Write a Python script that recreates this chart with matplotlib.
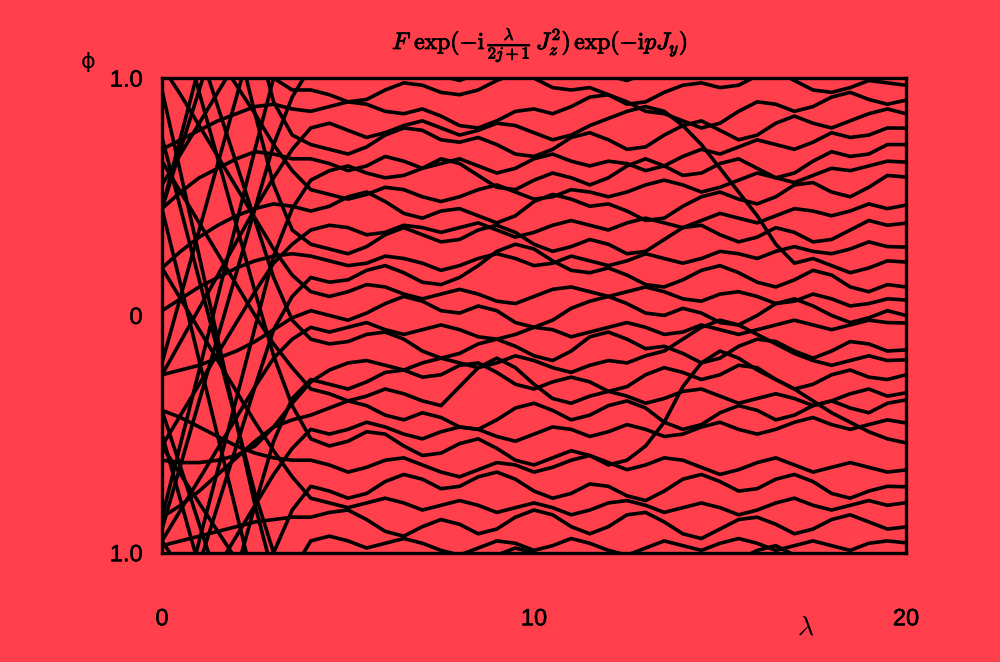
import matplotlib.pyplot as plt
import matplotlib.patheffects as pe

plt.rcParams['font.family'] = ['Liberation Sans', 'DejaVu Sans']
plt.rcParams['mathtext.fontset'] = 'cm'

# lambda sample points (x axis), 0 .. 20 in steps of 0.5
lam = [0, 0.5, 1, 1.5, 2, 2.5, 3, 3.5, 4, 4.5, 5, 5.5, 6, 6.5, 7, 7.5, 8, 8.5,
       9, 9.5, 10, 10.5, 11, 11.5, 12, 12.5, 13, 13.5, 14, 14.5, 15, 15.5, 16,
       16.5, 17, 17.5, 18, 18.5, 19, 19.5, 20]

# eigenphases phi (units of pi), unwrapped
lev00 = [2.75, 2.45, 2.15, 1.85, 1.55, 1.25, 1.00, 0.95,
         0.95, 0.93, 0.90, 0.91, 0.95, 0.98, 0.97, 0.94, 0.93, 0.95, 0.99, 1.02, 1.00, 0.96, 0.95, 0.96,
         0.93, 0.89, 0.90, 0.94, 0.97, 0.98, 0.96, 0.97, 1.01, 1.03, 0.99, 0.95, 0.94, 0.96, 0.99, 0.98, 0.97]
lev01 = [0.70, 0.74, 0.78, 0.82, 0.85, 0.88, 0.89, 0.87,
         0.86, 0.88, 0.90, 0.89, 0.86, 0.85, 0.87, 0.84, 0.80, 0.79, 0.82, 0.86, 0.87, 0.85, 0.88, 0.92,
         0.93, 0.90, 0.86, 0.85, 0.82, 0.79, 0.81, 0.86, 0.90, 0.89, 0.86, 0.88, 0.92, 0.94, 0.91, 0.89, 0.907]
lev02 = [-0.25, -0.11, 0.03, 0.17, 0.31, 0.45, 0.58, 0.70,
         0.79, 0.81, 0.78, 0.75, 0.77, 0.80, 0.82, 0.79, 0.76, 0.78, 0.81, 0.80, 0.77, 0.74, 0.76, 0.80,
         0.83, 0.86, 0.88, 0.86, 0.80, 0.72, 0.62, 0.52, 0.42, 0.30, 0.22, 0.24, 0.21, 0.18, 0.20, 0.23, 0.225]
lev03 = [2.95, 2.60, 2.25, 1.90, 1.55, 1.20, 0.90, 0.76,
         0.72, 0.70, 0.68, 0.71, 0.76, 0.79, 0.78, 0.74, 0.73, 0.75, 0.72, 0.68, 0.67, 0.70, 0.75, 0.77,
         0.74, 0.70, 0.71, 0.76, 0.80, 0.82, 0.78, 0.74, 0.76, 0.81, 0.84, 0.81, 0.79, 0.82, 0.85, 0.87, 0.85]
lev04 = [0.45, 0.52, 0.58, 0.62, 0.66, 0.69, 0.68, 0.66,
         0.66, 0.64, 0.61, 0.63, 0.67, 0.65, 0.62, 0.64, 0.66, 0.63, 0.60, 0.62, 0.66, 0.68, 0.65, 0.63,
         0.65, 0.64, 0.61, 0.63, 0.67, 0.70, 0.68, 0.71, 0.74, 0.72, 0.70, 0.73, 0.77, 0.75, 0.76, 0.79, 0.789]
lev05 = [-1.55, -1.25, -0.95, -0.65, -0.35, -0.05, 0.25, 0.45,
         0.57, 0.61, 0.63, 0.60, 0.58, 0.59, 0.62, 0.66, 0.64, 0.59, 0.54, 0.53, 0.57, 0.60, 0.58, 0.55,
         0.58, 0.63, 0.66, 0.63, 0.59, 0.60, 0.64, 0.66, 0.62, 0.58, 0.60, 0.65, 0.69, 0.67, 0.68, 0.72, 0.72]
lev06 = [1.45, 1.33, 1.21, 1.09, 0.97, 0.85, 0.72, 0.61,
         0.53, 0.51, 0.49, 0.51, 0.54, 0.53, 0.50, 0.48, 0.50, 0.53, 0.55, 0.52, 0.49, 0.50, 0.53, 0.52,
         0.50, 0.52, 0.55, 0.57, 0.55, 0.52, 0.54, 0.57, 0.60, 0.58, 0.56, 0.59, 0.62, 0.61, 0.63, 0.65, 0.646]
lev07 = [0.20, 0.27, 0.33, 0.38, 0.42, 0.45, 0.47, 0.46,
         0.44, 0.46, 0.50, 0.52, 0.48, 0.43, 0.41, 0.44, 0.45, 0.42, 0.39, 0.42, 0.48, 0.51, 0.49, 0.46,
         0.47, 0.44, 0.40, 0.41, 0.46, 0.50, 0.52, 0.49, 0.47, 0.50, 0.55, 0.56, 0.52, 0.50, 0.54, 0.59, 0.583]
lev08 = [-0.55, -0.42, -0.29, -0.16, -0.03, 0.10, 0.22, 0.30,
         0.36, 0.38, 0.37, 0.34, 0.35, 0.38, 0.37, 0.35, 0.37, 0.39, 0.36, 0.33, 0.35, 0.38, 0.40, 0.38,
         0.36, 0.39, 0.41, 0.39, 0.37, 0.40, 0.43, 0.41, 0.39, 0.42, 0.45, 0.44, 0.42, 0.44, 0.47, 0.45, 0.465]
lev09 = [2.45, 2.13, 1.81, 1.49, 1.17, 0.85, 0.55, 0.36,
         0.30, 0.28, 0.26, 0.29, 0.34, 0.37, 0.34, 0.31, 0.32, 0.36, 0.38, 0.35, 0.30, 0.27, 0.29, 0.32,
         0.30, 0.26, 0.27, 0.32, 0.37, 0.38, 0.34, 0.31, 0.33, 0.37, 0.35, 0.31, 0.32, 0.36, 0.40, 0.38, 0.389]
lev10 = [0.02, 0.07, 0.12, 0.16, 0.20, 0.23, 0.25, 0.26,
         0.25, 0.23, 0.21, 0.22, 0.25, 0.24, 0.22, 0.19, 0.21, 0.24, 0.26, 0.24, 0.21, 0.22, 0.25, 0.23,
         0.21, 0.23, 0.26, 0.24, 0.22, 0.24, 0.27, 0.26, 0.24, 0.27, 0.29, 0.27, 0.26, 0.28, 0.31, 0.29, 0.288]
lev11 = [-1.55, -1.30, -1.05, -0.80, -0.55, -0.30, -0.06, 0.08,
         0.16, 0.14, 0.15, 0.19, 0.21, 0.18, 0.14, 0.13, 0.16, 0.21, 0.27, 0.30, 0.28, 0.23, 0.19, 0.18,
         0.20, 0.17, 0.13, 0.12, 0.15, 0.19, 0.21, 0.18, 0.14, 0.12, 0.15, 0.19, 0.17, 0.12, 0.10, 0.13, 0.12]
lev12 = [1.05, 0.93, 0.80, 0.67, 0.54, 0.41, 0.28, 0.17,
         0.10, 0.08, 0.10, 0.13, 0.12, 0.09, 0.07, 0.09, 0.11, 0.09, 0.06, 0.05, 0.08, 0.11, 0.12, 0.10,
         0.08, 0.10, 0.12, 0.10, 0.07, 0.06, 0.09, 0.10, 0.08, 0.05, 0.06, 0.09, 0.07, 0.04, 0.05, 0.07, 0.065]
lev13 = [-0.25, -0.23, -0.21, -0.18, -0.15, -0.11, -0.06, -0.01,
         0.02, 0.00, -0.02, 0.01, 0.05, 0.08, 0.06, 0.02, 0.01, 0.04, 0.02, -0.03, -0.05, -0.02, 0.03, 0.06,
         0.08, 0.05, 0.01, 0.00, 0.03, 0.01, -0.03, -0.04, 0.00, 0.05, 0.07, 0.04, 0.00, -0.03, -0.01, 0.02, 0.00]
lev14 = [-0.95, -0.82, -0.69, -0.56, -0.43, -0.30, -0.18, -0.10,
         -0.05, -0.07, -0.05, -0.03, -0.06, -0.08, -0.06, -0.04, -0.06, -0.09, -0.10, -0.08, -0.05, -0.06, -0.09, -0.07,
         -0.05, -0.03, -0.05, -0.08, -0.07, -0.04, -0.06, -0.08, -0.06, -0.04, -0.02, -0.04, -0.06, -0.04, -0.02, -0.03, -0.032]
lev15 = [1.60, 1.36, 1.12, 0.88, 0.64, 0.40, 0.16, -0.02,
         -0.10, -0.12, -0.11, -0.08, -0.07, -0.10, -0.15, -0.18, -0.16, -0.12, -0.10, -0.13, -0.17, -0.19, -0.15, -0.09,
         -0.07, -0.10, -0.14, -0.13, -0.16, -0.20, -0.18, -0.13, -0.10, -0.11, -0.15, -0.18, -0.15, -0.11, -0.12, -0.15, -0.145]
lev16 = [-0.61, -0.62, -0.62, -0.61, -0.59, -0.55, -0.47, -0.37,
         -0.28, -0.23, -0.20, -0.19, -0.21, -0.23, -0.20, -0.18, -0.20, -0.22, -0.20, -0.17, -0.19, -0.22, -0.24, -0.21,
         -0.19, -0.20, -0.17, -0.15, -0.10, -0.05, -0.02, -0.04, -0.08, -0.12, -0.16, -0.19, -0.21, -0.19, -0.17, -0.19, -0.187]
lev17 = [-2.20, -1.92, -1.64, -1.36, -1.08, -0.80, -0.53, -0.35,
         -0.27, -0.29, -0.31, -0.28, -0.24, -0.23, -0.26, -0.25, -0.21, -0.20, -0.24, -0.29, -0.31, -0.28, -0.26, -0.28,
         -0.32, -0.30, -0.25, -0.22, -0.24, -0.27, -0.25, -0.21, -0.22, -0.27, -0.31, -0.29, -0.25, -0.23, -0.26, -0.27, -0.25]
lev18 = [0.65, 0.52, 0.39, 0.26, 0.13, 0.00, -0.12, -0.22,
         -0.31, -0.33, -0.36, -0.34, -0.31, -0.33, -0.36, -0.38, -0.30, -0.22, -0.18, -0.22, -0.29, -0.35, -0.37, -0.34,
         -0.32, -0.34, -0.37, -0.35, -0.32, -0.31, -0.34, -0.37, -0.35, -0.33, -0.35, -0.38, -0.36, -0.33, -0.31, -0.34, -0.326]
lev19 = [-0.85, -0.80, -0.74, -0.67, -0.60, -0.53, -0.47, -0.44,
         -0.42, -0.39, -0.36, -0.38, -0.42, -0.44, -0.41, -0.43, -0.47, -0.48, -0.44, -0.39, -0.37, -0.40, -0.44, -0.42,
         -0.38, -0.36, -0.39, -0.45, -0.48, -0.46, -0.41, -0.38, -0.40, -0.44, -0.42, -0.38, -0.36, -0.39, -0.41, -0.37, -0.356]
lev20 = [-1.45, -1.32, -1.19, -1.06, -0.93, -0.80, -0.67, -0.56,
         -0.48, -0.50, -0.48, -0.45, -0.47, -0.50, -0.52, -0.49, -0.47, -0.48, -0.51, -0.53, -0.50, -0.47, -0.48, -0.51,
         -0.49, -0.46, -0.48, -0.51, -0.50, -0.47, -0.45, -0.48, -0.50, -0.48, -0.45, -0.43, -0.46, -0.48, -0.46, -0.44, -0.453]
lev21 = [1.50, 1.22, 0.94, 0.66, 0.38, 0.10, -0.17, -0.38,
         -0.52, -0.55, -0.53, -0.49, -0.50, -0.55, -0.59, -0.58, -0.54, -0.52, -0.56, -0.61, -0.63, -0.60, -0.57, -0.59,
         -0.63, -0.61, -0.55, -0.45, -0.30, -0.20, -0.15, -0.18, -0.23, -0.27, -0.31, -0.36, -0.41, -0.45, -0.49, -0.52, -0.537]
lev22 = [-0.40, -0.43, -0.47, -0.51, -0.55, -0.58, -0.60, -0.61,
         -0.61, -0.63, -0.66, -0.64, -0.61, -0.60, -0.63, -0.66, -0.68, -0.65, -0.62, -0.63, -0.66, -0.64, -0.61, -0.59,
         -0.62, -0.65, -0.63, -0.60, -0.61, -0.64, -0.67, -0.65, -0.62, -0.60, -0.63, -0.66, -0.64, -0.62, -0.64, -0.66, -0.651]
lev23 = [-2.85, -2.54, -2.23, -1.92, -1.61, -1.30, -1.00, -0.82,
         -0.72, -0.74, -0.77, -0.75, -0.70, -0.67, -0.69, -0.73, -0.72, -0.68, -0.66, -0.69, -0.74, -0.77, -0.75, -0.71,
         -0.72, -0.76, -0.78, -0.74, -0.69, -0.67, -0.70, -0.74, -0.73, -0.69, -0.67, -0.70, -0.75, -0.77, -0.74, -0.72, -0.722]
lev24 = [0.20, 0.07, -0.06, -0.19, -0.32, -0.45, -0.57, -0.68,
         -0.77, -0.79, -0.81, -0.79, -0.77, -0.79, -0.82, -0.80, -0.78, -0.80, -0.83, -0.81, -0.79, -0.81, -0.84, -0.82,
         -0.79, -0.78, -0.80, -0.83, -0.81, -0.79, -0.81, -0.84, -0.82, -0.79, -0.77, -0.80, -0.82, -0.80, -0.78, -0.80, -0.789]
lev25 = [-0.97, -0.95, -0.93, -0.91, -0.89, -0.87, -0.86, -0.85,
         -0.85, -0.83, -0.82, -0.86, -0.91, -0.93, -0.89, -0.86, -0.88, -0.92, -0.90, -0.85, -0.82, -0.84, -0.89, -0.92,
         -0.89, -0.84, -0.83, -0.87, -0.92, -0.94, -0.90, -0.86, -0.85, -0.88, -0.92, -0.90, -0.86, -0.84, -0.87, -0.90, -0.891]
lev26 = [-2.90, -2.63, -2.36, -2.09, -1.82, -1.55, -1.28, -1.08,
         -0.95, -0.93, -0.95, -0.98, -0.96, -0.94, -0.96, -0.99, -1.01, -0.98, -0.95, -0.96, -0.99, -0.97, -0.94, -0.96,
         -0.99, -1.01, -0.98, -0.95, -0.97, -0.99, -0.96, -0.94, -0.96, -0.99, -0.97, -0.95, -0.97, -0.99, -0.96, -0.95, -0.958]

levels = [lev00, lev01, lev02, lev03, lev04, lev05, lev06, lev07, lev08,
          lev09, lev10, lev11, lev12, lev13, lev14, lev15, lev16, lev17,
          lev18, lev19, lev20, lev21, lev22, lev23, lev24, lev25, lev26]

x_ticks = [0, 10, 20]
x_labels = ['0', '10', '20']
y_ticks = [-1, 0, 1]
y_labels = ['1.0', '0', '1.0']

bg = '#ff404c'
fig = plt.figure(figsize=(10, 6.62), dpi=100, facecolor=bg)
ax = fig.add_axes([0.162, 0.165, 0.744, 0.717])
ax.set_facecolor(bg)

# phases live on a circle: draw each level also shifted by multiples of 2
for lev in levels:
    for shift in (-4, -2, 0, 2, 4):
        ax.plot(lam, [v + shift for v in lev], color='black', lw=2.6,
                solid_joinstyle='round', solid_capstyle='round')

ax.set_xlim(0, 20)
ax.set_ylim(-1, 1)
for s in ax.spines.values():
    s.set_linewidth(2.4)
    s.set_zorder(5)

ax.set_xticks(x_ticks)
ax.set_xticklabels(x_labels)
ax.set_yticks(y_ticks)
ax.set_yticklabels(y_labels)
ax.tick_params(axis='both', length=0, labelsize=17)
ax.tick_params(axis='x', pad=40)
ax.tick_params(axis='y', pad=14)
for t in ax.get_xticklabels() + ax.get_yticklabels():
    t.set_path_effects([pe.withStroke(linewidth=0.35, foreground='black')])

fig.text(0.806, 0.052, r'$\lambda$', fontsize=20, ha='center', va='center')
fig.text(0.088, 0.906, '\u03d5', fontsize=16, ha='center', va='center',
         family=['DejaVu Sans'])
fig.text(0.54, 0.932,
         r'$F\ \exp(-\mathrm{i}\,\frac{\lambda}{2j+1}\,J_z^2)\,\exp(-\mathrm{i}pJ_y)$',
         fontsize=17, ha='center', va='center',
         path_effects=[pe.withStroke(linewidth=0.7, foreground='black')])

fig.savefig('out.png', dpi=100, facecolor=bg)
